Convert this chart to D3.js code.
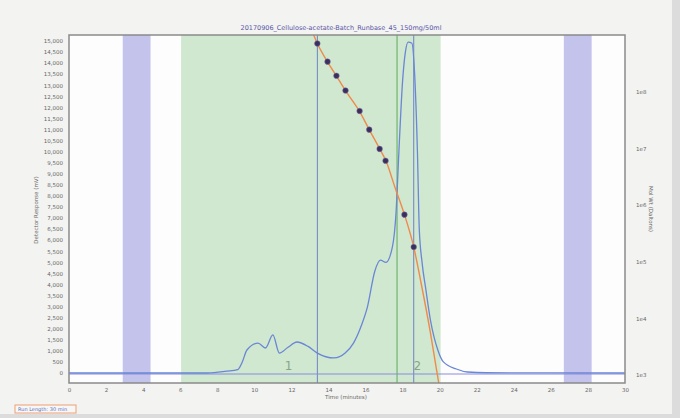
<!DOCTYPE html>
<html>
<head>
<meta charset="utf-8">
<script src="https://cdn.jsdelivr.net/npm/d3@7"></script>
<style>
  body { margin: 0; background: #dcdcdc; }
  text { font-family: "DejaVu Sans", sans-serif; }
</style>
</head>
<body>
<div id="container"></div>
<script>
// data
var timeValues = [0, 7.5, 8.5, 9.1, 9.35, 9.6, 10.2, 10.6, 11.0, 11.35, 11.8, 12.3, 12.9, 13.4, 14.3, 14.9, 15.35, 15.8, 16.1, 16.5, 16.8, 17.1, 17.45, 17.65, 17.8, 18.0, 18.15, 18.3, 18.5, 18.65, 18.8, 18.9, 19.05, 19.25, 19.5, 19.9, 20.2, 20.9, 21.5, 22.5, 30];
var responseValues = [0, 0, 80, 150, 500, 1040, 1350, 1130, 1720, 900, 1150, 1400, 1200, 900, 680, 900, 1350, 2200, 2980, 4600, 5100, 5000, 5700, 7300, 10000, 13200, 14500, 14950, 14900, 13500, 10000, 6500, 5000, 3800, 2400, 1040, 500, 180, 45, 10, 0];

// calibration standards (time, log10 mol wt)
var calTimes = [13.4, 13.95, 14.43, 14.92, 15.68, 16.2, 16.76, 17.08, 18.1, 18.6];
var calLogMW = [8.85, 8.53, 8.28, 8.02, 7.66, 7.33, 6.99, 6.78, 5.83, 5.26];

// calibration fit curve
var fitTimes = [13.2, 13.4, 14.0, 14.5, 15.0, 15.7, 16.2, 16.8, 17.1, 17.6, 18.1, 18.6, 19.0, 19.5, 19.95];
var fitLogMW = [9.0, 8.85, 8.5, 8.24, 7.98, 7.64, 7.33, 6.97, 6.78, 6.3, 5.83, 5.26, 4.62, 3.75, 2.86];

// shaded ranges and markers
var excludeRanges = [[2.9, 4.4], [26.7, 28.2]];
var integrateRange = [6.05, 20.05];
var blueMarkers = [13.4, 18.6];
var greenMarkers = [17.7];
var peakLabels = ["1", "2"];
var peakLabelTimes = [11.85, 18.8];

var xTicks = d3.range(0, 31, 2);
var yTicks = d3.range(0, 15001, 500);
var mwTicks = [1e3, 1e4, 1e5, 1e6, 1e7, 1e8];
var mwTickLabels = ["1e3", "1e4", "1e5", "1e6", "1e7", "1e8"];

var chartTitle = "20170906_Cellulose-acetate-Batch_Runbase_45_150mg/50ml";

// 设置常数
var WIDTH = 680, HEIGHT = 418;
var PLOT = { left: 69, right: 625, top: 35, bottom: 383 };

var svg = d3.select("#container")
  .append("svg")
  .attr("width", WIDTH)
  .attr("height", HEIGHT);

// screen background
svg.append("rect").attr("width", 672).attr("height", 414).attr("fill", "#f3f3f1");

var xScale = d3.scaleLinear().domain([0, 30]).range([PLOT.left, PLOT.right]);
var yScale = d3.scaleLinear().domain([-452, 15271]).range([PLOT.bottom, PLOT.top]);
var mwScale = d3.scaleLog().domain([Math.pow(10, 2.86), 1e9]).range([PLOT.bottom, PLOT.top]);

// plot background
svg.append("rect")
  .attr("x", PLOT.left).attr("y", PLOT.top)
  .attr("width", PLOT.right - PLOT.left).attr("height", PLOT.bottom - PLOT.top)
  .attr("fill", "#fdfdfd");

// green integration band
svg.append("rect")
  .attr("x", xScale(integrateRange[0])).attr("y", PLOT.top)
  .attr("width", xScale(integrateRange[1]) - xScale(integrateRange[0]))
  .attr("height", PLOT.bottom - PLOT.top)
  .attr("fill", "#cfe8cf");

// purple exclusion bands
svg.selectAll(".band")
  .data(excludeRanges)
  .enter()
  .append("rect")
  .attr("class", "band")
  .attr("x", function (d) { return xScale(d[0]); })
  .attr("y", PLOT.top)
  .attr("width", function (d) { return xScale(d[1]) - xScale(d[0]); })
  .attr("height", PLOT.bottom - PLOT.top)
  .attr("fill", "#c3c3ec");

// vertical marker lines
svg.selectAll(".bmark")
  .data(blueMarkers)
  .enter()
  .append("line")
  .attr("x1", function (d) { return xScale(d); })
  .attr("x2", function (d) { return xScale(d); })
  .attr("y1", PLOT.top).attr("y2", PLOT.bottom)
  .attr("stroke", "#7080c8").attr("stroke-width", 1);

svg.selectAll(".gmark")
  .data(greenMarkers)
  .enter()
  .append("line")
  .attr("x1", function (d) { return xScale(d); })
  .attr("x2", function (d) { return xScale(d); })
  .attr("y1", PLOT.top).attr("y2", PLOT.bottom)
  .attr("stroke", "#5faa5f").attr("stroke-width", 1);

// baseline
svg.append("line")
  .attr("x1", xScale(0)).attr("x2", xScale(30))
  .attr("y1", yScale(0) + 1).attr("y2", yScale(0) + 1)
  .attr("stroke", "#8c8ce0").attr("stroke-width", 1.2);

// chromatogram
var trace = timeValues.map(function (t, i) { return [t, responseValues[i]]; });
var line = d3.line()
  .x(function (d) { return xScale(d[0]); })
  .y(function (d) { return yScale(d[1]); })
  .curve(d3.curveMonotoneX);

svg.append("path")
  .datum(trace)
  .attr("d", line)
  .attr("fill", "none")
  .attr("stroke", "#6a86d6")
  .attr("stroke-width", 1.3);

// calibration fit
var fit = fitTimes.map(function (t, i) { return [t, Math.pow(10, fitLogMW[i])]; });
var fitLine = d3.line()
  .x(function (d) { return xScale(d[0]); })
  .y(function (d) { return mwScale(d[1]); })
  .curve(d3.curveMonotoneX);

svg.append("path")
  .datum(fit)
  .attr("d", fitLine)
  .attr("fill", "none")
  .attr("stroke", "#f08a4a")
  .attr("stroke-width", 1.4);

// calibration points
svg.selectAll(".cal")
  .data(calTimes)
  .enter()
  .append("circle")
  .attr("class", "cal")
  .attr("cx", function (d) { return xScale(d); })
  .attr("cy", function (d, i) { return mwScale(Math.pow(10, calLogMW[i])); })
  .attr("r", 2.8)
  .attr("fill", "#3a2f5e")
  .attr("stroke", "#7a6fa0")
  .attr("stroke-width", 0.5);

// peak labels
svg.selectAll(".peak")
  .data(peakLabels)
  .enter()
  .append("text")
  .attr("x", function (d, i) { return xScale(peakLabelTimes[i]); })
  .attr("y", yScale(0) - 3)
  .attr("text-anchor", "middle")
  .style("font-size", "12px")
  .style("fill", "#8aa48a")
  .text(function (d) { return d; });

// frame
svg.append("rect")
  .attr("x", PLOT.left).attr("y", PLOT.top)
  .attr("width", PLOT.right - PLOT.left).attr("height", PLOT.bottom - PLOT.top)
  .attr("fill", "none")
  .attr("stroke", "#8a8a8a")
  .attr("stroke-width", 1.5);

// 坐标轴
var xAxis = d3.axisBottom(xScale).tickValues(xTicks).tickSize(0).tickPadding(5);
svg.append("g")
  .attr("class", "x-axis")
  .attr("transform", "translate(0," + PLOT.bottom + ")")
  .call(xAxis);

var yAxis = d3.axisLeft(yScale).tickValues(yTicks).tickSize(0).tickPadding(6).tickFormat(d3.format(","));
svg.append("g")
  .attr("class", "y-axis")
  .attr("transform", "translate(" + PLOT.left + ",0)")
  .call(yAxis);

var mwAxis = d3.axisRight(mwScale).tickValues(mwTicks).tickSize(0).tickPadding(11)
  .tickFormat(function (d, i) { return mwTickLabels[i]; });
svg.append("g")
  .attr("class", "mw-axis")
  .attr("transform", "translate(" + PLOT.right + ",0)")
  .call(mwAxis);

svg.selectAll(".x-axis text, .y-axis text, .mw-axis text")
  .style("font-size", "5.5px")
  .style("fill", "#666");
svg.selectAll(".domain").remove();

// titles
svg.append("text")
  .attr("x", 341).attr("y", 30)
  .attr("text-anchor", "middle")
  .style("font-size", "6.5px")
  .style("fill", "#5a55a8")
  .text(chartTitle);

svg.append("text")
  .attr("x", 346).attr("y", 399)
  .attr("text-anchor", "middle")
  .style("font-size", "5.5px")
  .style("fill", "#666")
  .text("Time (minutes)");

svg.append("text")
  .attr("transform", "rotate(-90)")
  .attr("x", -210).attr("y", 38)
  .attr("text-anchor", "middle")
  .style("font-size", "5.5px")
  .style("fill", "#666")
  .text("Detector Response (mV)");

svg.append("text")
  .attr("transform", "rotate(90)")
  .attr("x", 209).attr("y", -649)
  .attr("text-anchor", "middle")
  .style("font-size", "5.5px")
  .style("fill", "#666")
  .text("Mol Wt (Daltons)");

// run length box
svg.append("rect")
  .attr("x", 15).attr("y", 405).attr("width", 61).attr("height", 8)
  .attr("fill", "#f7f7f7")
  .attr("stroke", "#f0a070").attr("stroke-width", 1);
svg.append("text")
  .attr("x", 18).attr("y", 411)
  .style("font-size", "5px")
  .style("fill", "#5a6fc0")
  .text("Run Length: 30 min");
</script>
</body>
</html>
